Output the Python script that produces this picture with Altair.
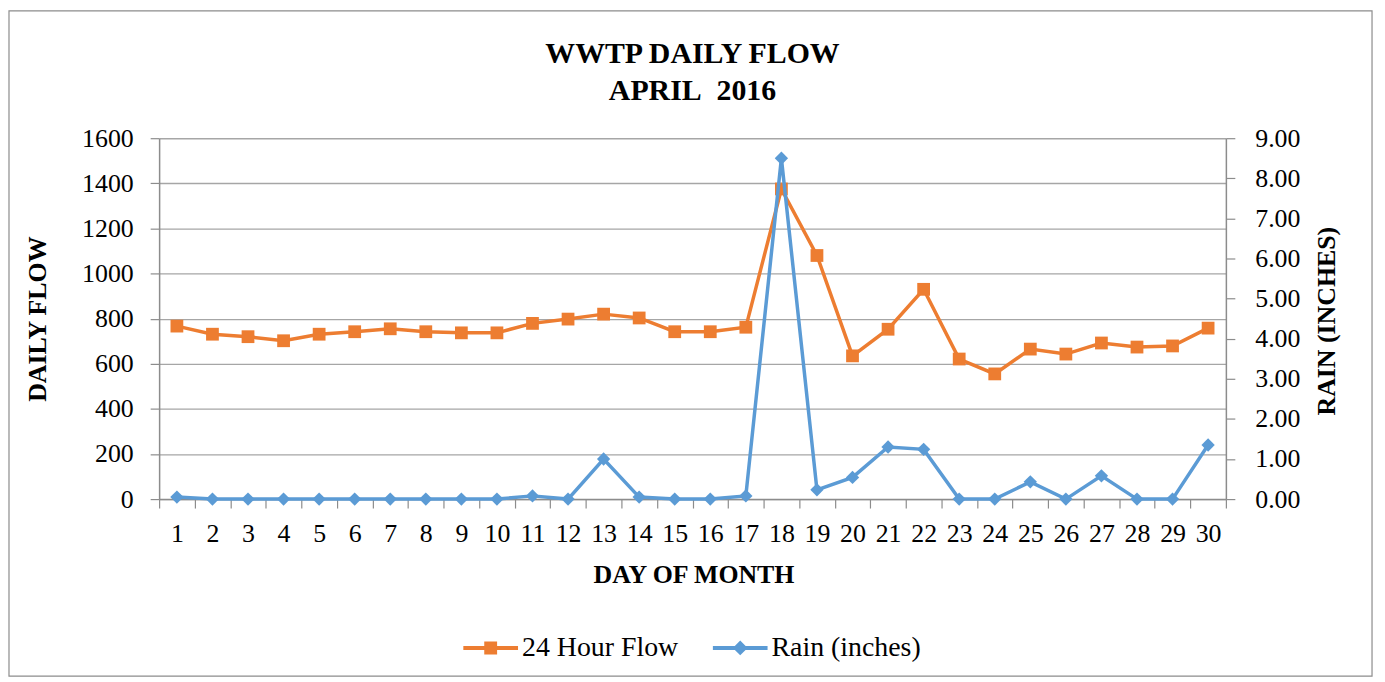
import altair as alt
import pandas as pd

# ---- data ----
days = list(range(1, 31))
flow = [767, 731, 720, 702, 731, 742, 755, 742, 737, 737,
        779, 798, 820, 803, 742, 742, 762, 1375, 1080, 635,
        753, 930, 621, 555, 665, 643, 692, 674, 679, 758]
rain = [0.05, 0, 0, 0, 0, 0, 0, 0, 0, 0,
        0.08, 0, 1.00, 0.05, 0, 0, 0.08, 8.50, 0.23, 0.54,
        1.30, 1.24, 0, 0, 0.43, 0, 0.58, 0, 0, 1.35]
series_names = ["24 Hour Flow", "Rain (inches)"]
flow_ticks = [0, 200, 400, 600, 800, 1000, 1200, 1400, 1600]
rain_ticks = [0, 1, 2, 3, 4, 5, 6, 7, 8, 9]
title_lines = ["WWTP DAILY FLOW", "APRIL\u00a0 2016"]

# ---- styling ----
W, H = 1073, 363
FONT = "Liberation Serif"
ORANGE = "#ED7D31"
BLUE = "#5B9BD5"
GRID = "#a6a6a6"
AX = "#8c8c8c"

df = pd.DataFrame({"day": days, "flow": flow, "rain": rain})
leg = pd.DataFrame({"series": series_names})

x_enc = alt.X(
    "day:O",
    scale=alt.Scale(type="band", paddingInner=0, paddingOuter=0),
    axis=alt.Axis(tickBand="extent", grid=False, title="DAY OF MONTH", labelAngle=0,
                  labelOverlap=False, labelPadding=13, titleX=W / 2 + 1, titleY=76,
                  titleBaseline="middle", titleAlign="center"),
)

flow_y = alt.Y(
    "flow:Q",
    scale=alt.Scale(domain=[0, 1600], nice=False),
    axis=alt.Axis(values=flow_ticks, grid=True, title="DAILY FLOW", orient="left", format="d",
                  labelPadding=17, titleAngle=270, titleX=-122, titleY=H / 2,
                  titleBaseline="middle", titleAlign="center"),
)
rain_y = alt.Y(
    "rain:Q",
    scale=alt.Scale(domain=[0, 9], nice=False),
    axis=alt.Axis(values=rain_ticks, grid=False, title="RAIN (INCHES)", orient="right",
                  format=".2f", labelPadding=20, titleAngle=270, titleX=101, titleY=H / 2 + 2,
                  titleBaseline="middle", titleAlign="center"),
)

base = alt.Chart(df)

frame = alt.Chart(leg.iloc[:1]).mark_rect(fill=None, stroke="#8c8c8c", strokeWidth=1.2).encode(
    x=alt.value(-151), x2=alt.value(W + 147), y=alt.value(-128), y2=alt.value(H + 178)
)

flow_line = base.mark_line(color=ORANGE, strokeWidth=3.5).encode(x=x_enc, y=flow_y)
flow_pts = base.mark_point(shape="square", filled=True, opacity=1, color=ORANGE, size=165).encode(
    x="day:O", y="flow:Q")

path_sq = "M-1,-0.07H1V0.07H-1Z M-0.235,-0.235H0.235V0.235H-0.235Z"
path_dm = "M-1,-0.07H1V0.07H-1Z M-0.27,0L0,-0.27L0.27,0L0,0.27Z"
legend = alt.Legend(title=None, orient="none", direction="horizontal", legendX=306, legendY=485,
                    labelFont=FONT, labelFontSize=28, labelColor="black", labelOffset=4,
                    symbolSize=3025, symbolOpacity=1, symbolStrokeWidth=0, columnPadding=34,
                    labelLimit=300)
legend_pts = alt.Chart(leg).mark_point(filled=True, opacity=0).encode(
    color=alt.Color("series:N", scale=alt.Scale(domain=series_names, range=[ORANGE, BLUE]), legend=legend),
    shape=alt.Shape("series:N", scale=alt.Scale(domain=series_names, range=[path_sq, path_dm]), legend=legend),
)

rain_line = base.mark_line(color=BLUE, strokeWidth=3.5).encode(x="day:O", y=rain_y)
rain_pts = base.mark_point(shape="diamond", filled=True, opacity=1, color=BLUE, size=180).encode(
    x="day:O", y="rain:Q")

flow_layer = alt.layer(frame, flow_line, flow_pts, legend_pts)
rain_layer = alt.layer(rain_line, rain_pts)

chart = (
    alt.layer(flow_layer, rain_layer)
    .resolve_scale(y="independent")
    .properties(
        width=W, height=H,
        autosize=alt.AutoSizeParams(type="none"),
        padding={"left": 152, "top": 129, "right": 152, "bottom": 180},
        title=alt.Title(title_lines, font=FONT, fontSize=30, fontWeight="bold", color="black",
                        anchor="middle", lineHeight=37, offset=0, baseline="top", dy=96),
    )
    .configure_view(stroke=None)
    .configure_axis(
        labelFont=FONT, labelFontSize=26, labelColor="black",
        titleFont=FONT, titleFontSize=26, titleFontWeight="bold", titleColor="black",
        domainColor=AX, domainWidth=1.5, tickColor=AX, tickWidth=1.2, tickSize=9,
        gridColor=GRID, gridWidth=1.4,
    )
)

chart.save("out.html", embed_options={"renderer": "svg", "actions": False})
